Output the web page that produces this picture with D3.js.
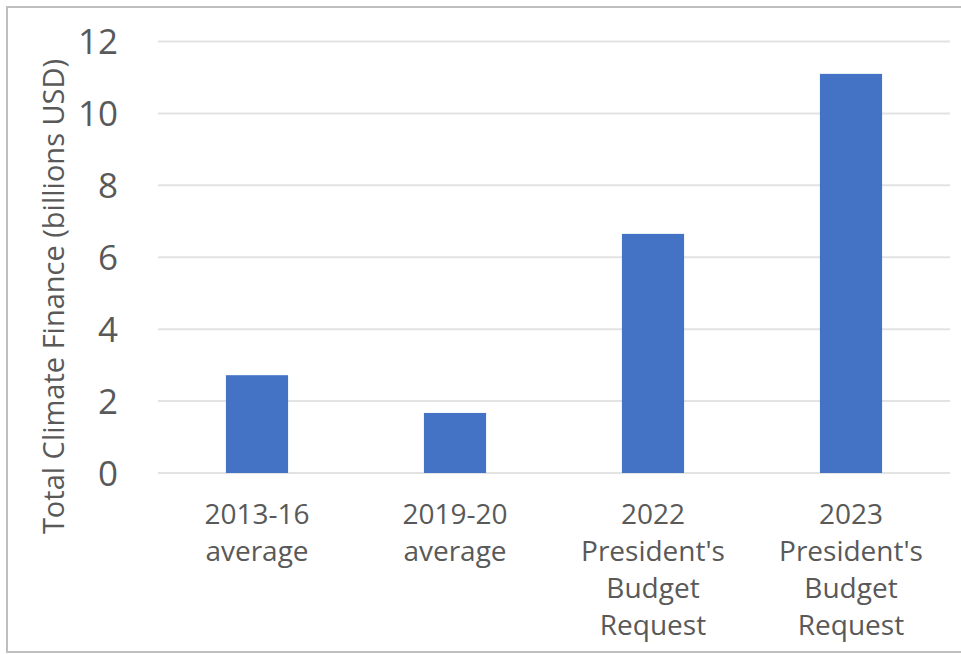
<!DOCTYPE html>
<html lang="en">
  <head>
    <meta charset="UTF-8" />
    <title>Total Climate Finance</title>
    <style>
      body { margin: 0; background: #fff; }
      svg text { font-family: "Open Sans", sans-serif; fill: #595959; }
    </style>
  </head>
  <body>
    <div id="chart"></div>

    <script src="https://cdn.jsdelivr.net/npm/d3@7"></script>
    <script>
    // data
    var categories = [
      ["2013-16", "average"],
      ["2019-20", "average"],
      ["2022", "President's", "Budget", "Request"],
      ["2023", "President's", "Budget", "Request"]
    ];
    var values = [2.72, 1.67, 6.65, 11.1];
    var yTicks = [0, 2, 4, 6, 8, 10, 12];

    var w = 961;
    var h = 654;

    var svg = d3.select("#chart")
                .append("svg")
                .attr("width", w)
                .attr("height", h);

    // outer frame (the picture is cropped on the right and bottom)
    svg.append("rect")
       .attr("x", 7)
       .attr("y", 7)
       .attr("width", w + 20)
       .attr("height", h - 9)
       .attr("fill", "none")
       .attr("stroke", "#bfbfbf")
       .attr("stroke-width", 2);

    var plotLeft = 158, plotRight = 950, plotTop = 41.5, plotBottom = 473;

    var xScale = d3.scaleBand()
                   .domain(d3.range(categories.length))
                   .range([plotLeft, plotRight])
                   .paddingInner(0.686)
                   .paddingOuter(0.343);

    var yScale = d3.scaleLinear()
                   .domain([0, 12])
                   .range([plotBottom, plotTop]);

    // gridlines
    svg.selectAll("line.grid")
       .data(yTicks)
       .enter()
       .append("line")
       .attr("class", "grid")
       .attr("x1", plotLeft)
       .attr("x2", plotRight)
       .attr("y1", function(d) { return yScale(d); })
       .attr("y2", function(d) { return yScale(d); })
       .attr("stroke", "#e3e3e3")
       .attr("stroke-width", 2);

    // y axis labels
    var yAxis = d3.axisLeft(yScale)
                  .tickValues(yTicks)
                  .tickSize(0)
                  .tickPadding(0);
    var gy = svg.append("g")
                .attr("transform", "translate(118,0)")
                .call(yAxis);
    gy.select(".domain").remove();
    gy.selectAll("text")
      .style("font-size", "35px")
      .attr("fill", "#595959")
      .attr("dy", "0.35em");

    // bars
    svg.selectAll("rect.bar")
       .data(values)
       .enter()
       .append("rect")
       .attr("class", "bar")
       .attr("x", function(d, i) { return xScale(i); })
       .attr("width", xScale.bandwidth())
       .attr("y", function(d) { return yScale(d); })
       .attr("height", function(d) { return yScale(0) - yScale(d); })
       .attr("fill", "#4472c4");

    // category labels
    var cat = svg.selectAll("text.cat")
                 .data(categories)
                 .enter()
                 .append("text")
                 .attr("class", "cat")
                 .attr("text-anchor", "middle")
                 .style("font-size", "28px");
    cat.selectAll("tspan")
       .data(function(d, i) { return d.map(function(s) { return { s: s, i: i }; }); })
       .enter()
       .append("tspan")
       .attr("x", function(d) { return xScale(d.i) + xScale.bandwidth() / 2; })
       .attr("y", function(d, j) { return 524 + j * 37; })
       .text(function(d) { return d.s; });

    // y axis title
    svg.append("text")
       .attr("transform", "translate(64," + ((50 + 543) / 2) + ") rotate(-90)")
       .attr("text-anchor", "middle")
       .style("font-size", "29px")
       .text("Total Climate Finance (billions USD)");
    </script>
  </body>
</html>
